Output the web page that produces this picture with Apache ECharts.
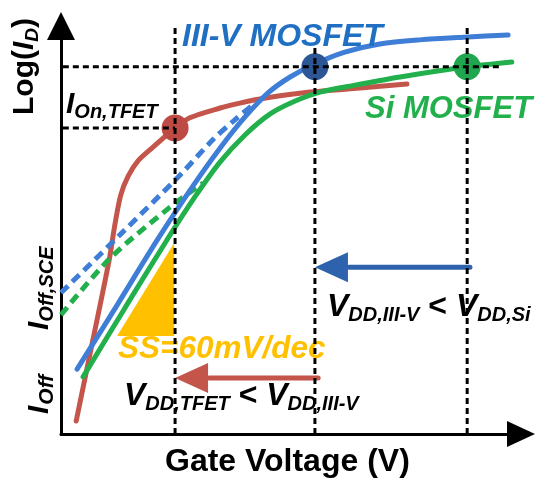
<!DOCTYPE html>
<html><head><meta charset="utf-8">
<script src="https://cdn.jsdelivr.net/npm/echarts@6/dist/echarts.min.js"></script>
<style>html,body{margin:0;padding:0;background:#fff}#c{width:536px;height:485px}</style>
</head><body><div id="c"></div>
<script>
// ---- data (arbitrary units: gate voltage 0..100, log(ID) 0..100) ----
const tfetX = [3.3, 6.7, 10.4, 11.7, 13.0, 14.6, 16.7, 20.0, 24.8, 28.0, 34.6, 38.9, 44.8, 54.1, 65.0, 75.2];
const tfetY = [3.2, 21.8, 42.2, 51.2, 58.6, 63.2, 66.9, 70.3, 75.0, 77.5, 79.9, 81.1, 82.4, 83.8, 84.8, 85.8];
const iiivX = [3.5, 12.2, 20.9, 28.7, 34.6, 40.0, 45.0, 49.8, 55.2, 61.7, 69.3, 78.0, 88.5, 97.2];
const iiivY = [15.9, 31.6, 47.5, 60.8, 70.1, 77.7, 83.6, 87.5, 90.7, 93.6, 95.6, 96.6, 97.3, 97.8];
const siX = [4.8, 13.9, 23.0, 29.1, 34.6, 40.0, 45.4, 50.9, 56.3, 63.9, 73.7, 88.3, 98.0];
const siY = [14.0, 30.9, 47.5, 58.1, 66.7, 73.3, 78.4, 81.6, 83.8, 85.5, 87.5, 90.0, 91.2];
const iiivSceX = [0, 12.8, 25.9, 33.0, 37.8, 42.2];
const iiivSceY = [34.6, 48.8, 63.5, 72.1, 77.0, 81.1];
const siSceX = [0, 10.7, 23.7, 30.9];
const siSceY = [29.2, 43.1, 55.6, 61.5];
// supply voltages (TFET, III-V, Si) and on-currents
const vddX = [24.8, 55.2, 88.3];
const vddTop = [99.5, 94.6, 99.5];
const ionY = [75.0, 90.0, 90.0];
const ionLineEnd = [24.8, 95.4];   // horizontal guides at ionY[0], ionY[1]
const guideStart = 0.4;
// SS triangle
const ssX = [12.2, 24.6, 24.6];
const ssY = [24.0, 24.0, 46.8];
// VDD reduction arrows
const arrowFromX = [55.9, 88.9];
const arrowToX = [24.8, 55.2];
const arrowY = [13.7, 40.9];

// ---- styles ----
const RED = '#c4554b', RED_DOT = '#bd4a44';
const BLUE = '#3f7ed6', BLUE_DOT = '#2d5697', BLUE_TXT = '#1f6fc2', BLUE_ARROW = '#2e62ad';
const GREEN = '#21b04b', GREEN_DOT = '#1fa64f';
const YELLOW = '#ffc000';
const FONT = '"Liberation Sans", Arial, Helvetica, sans-serif';

const zip = (xs, ys) => xs.map((x, i) => [x, ys[i]]);
const ctx = document.createElement('canvas').getContext('2d');
function tw(t, fs, it) { ctx.font = (it ? 'italic ' : '') + 'bold ' + fs + 'px ' + FONT; return ctx.measureText(t).width; }
function label(x, y, pieces, rot, color) {
  let cx = 0; const children = [];
  pieces.forEach(p => {
    children.push({
      type: 'text', x: cx, y: -0.3465 * p.fs + (p.dy || 0), z: 5,
      style: { text: p.t, fontSize: p.fs, fontWeight: 'bold', fontStyle: p.it ? 'italic' : 'normal',
        fontFamily: FONT, fill: p.c || color, textAlign: 'left', textVerticalAlign: 'middle',
        align: 'left', verticalAlign: 'middle' }
    });
    cx += tw(p.t, p.fs, p.it) + (p.gap || 0);
  });
  return { type: 'group', x: x, y: y, rotation: rot || 0, z: 5, children: children };
}

const curve = (name, xs, ys, color, dashed) => ({
  type: 'line', name, data: zip(xs, ys), smooth: 0.3, symbol: 'none', silent: true, z: 2,
  lineStyle: { color, width: 5, type: dashed ? [10, 6] : 'solid', cap: dashed ? 'butt' : 'round' }
});
const guide = (pts) => ({
  type: 'line', data: pts, symbol: 'none', silent: true, z: 10,
  lineStyle: { color: '#000', width: 3, type: [6, 4] }
});

const series = [
  curve('TFET', tfetX, tfetY, RED),
  curve('III-V SCE', iiivSceX, iiivSceY, BLUE, true),
  curve('Si SCE', siSceX, siSceY, GREEN, true),
  curve('III-V', iiivX, iiivY, BLUE),
  curve('Si', siX, siY, GREEN),
  {
    type: 'custom', silent: true, z: 1, data: [[ssX[0], ssY[0]]],
    renderItem: (params, api) => ({
      type: 'polygon', shape: { points: ssX.map((x, i) => api.coord([x, ssY[i]])) }, style: { fill: YELLOW }
    })
  },
  {
    type: 'scatter', silent: true, z: 3, symbolSize: 27,
    data: vddX.map((x, i) => ({ value: [x, ionY[i]], itemStyle: { color: [RED_DOT, BLUE_DOT, GREEN_DOT][i], opacity: 1 } }))
  },
  {
    type: 'custom', silent: true, z: 4, data: arrowY.map((y, i) => [arrowFromX[i], y]),
    renderItem: (params, api) => {
      const i = params.dataIndex;
      const c = [RED, BLUE_ARROW][i];
      const p1 = api.coord([arrowFromX[i], arrowY[i]]);
      const p2 = api.coord([arrowToX[i], arrowY[i]]);
      const L = 33, H = 15;
      const bx = p2[0] + L;
      return { type: 'group', children: [
        { type: 'line', shape: { x1: p1[0], y1: p1[1], x2: bx + 1, y2: p2[1] }, style: { stroke: c, lineWidth: 5, lineCap: 'round' } },
        { type: 'polygon', shape: { points: [[p2[0], p2[1]], [bx, p2[1] - H], [bx, p2[1] + H]] }, style: { fill: c } }
      ] };
    }
  }
];
vddX.forEach((x, i) => series.push(guide([[x, vddTop[i]], [x, 0]])));
ionLineEnd.forEach((xe, i) => series.push(guide([[guideStart, ionY[i]], [xe, ionY[i]]])));

const R = Math.PI / 2; // rotate text to read bottom-to-top
const graphic = [
  label(182, 48, [{ t: 'III-V MOSFET', fs: 32, it: true }], 0, BLUE_TXT),
  label(365, 120, [{ t: 'Si MOSFET', fs: 31, it: true }], 0, GREEN),
  label(118, 360, [{ t: 'SS=60mV/dec', fs: 31.5, it: true }], 0, YELLOW),
  label(165, 473, [{ t: 'Gate Voltage (V)', fs: 32 }], 0, '#000'),
  label(66, 115, [{ t: 'I', fs: 30, it: true }, { t: 'On,TFET', fs: 20, it: true, dy: 4 }], 0, '#000'),
  label(327, 318, [{ t: 'V', fs: 32, it: true }, { t: 'DD,III-V', fs: 20, it: true, dy: 4 }, { t: ' < ', fs: 32 },
    { t: 'V', fs: 32, it: true }, { t: 'DD,Si', fs: 20, it: true, dy: 4 }], 0, '#000'),
  label(124, 407, [{ t: 'V', fs: 32, it: true }, { t: 'DD,TFET', fs: 20, it: true, dy: 4 }, { t: ' < ', fs: 32 },
    { t: 'V', fs: 32, it: true }, { t: 'DD,III-V', fs: 20, it: true, dy: 4 }], 0, '#000'),
  label(35, 115, [{ t: 'Log(', fs: 30 }, { t: 'I', fs: 30, it: true }, { t: 'D', fs: 19, it: true, dy: 4 }, { t: ')', fs: 30 }], R, '#000'),
  label(50, 330, [{ t: 'I', fs: 30, it: true }, { t: 'Off,SCE', fs: 20, it: true, dy: 4 }], R, '#000'),
  label(50, 414, [{ t: 'I', fs: 30, it: true, gap: 1 }, { t: 'Off', fs: 21, it: true, dy: 4 }], R, '#000')
];

const axisCommon = {
  type: 'value', min: 0, max: 100,
  axisLabel: { show: false }, axisTick: { show: false }, splitLine: { show: false },
  axisLine: { show: true, symbol: ['none', 'triangle'], lineStyle: { color: '#000', width: 3 } }
};
const chart = echarts.init(document.getElementById('c'), null, { renderer: 'canvas' });
chart.setOption({
  animation: false,
  backgroundColor: '#fff',
  grid: { left: 61, right: 15, top: 26, bottom: 51 },
  xAxis: Object.assign({}, axisCommon, { axisLine: Object.assign({}, axisCommon.axisLine, { symbolSize: [26, 28] }) }),
  yAxis: Object.assign({}, axisCommon, { axisLine: Object.assign({}, axisCommon.axisLine, { symbolSize: [28, 28] }) }),
  series: series,
  graphic: graphic
});
</script></body></html>
